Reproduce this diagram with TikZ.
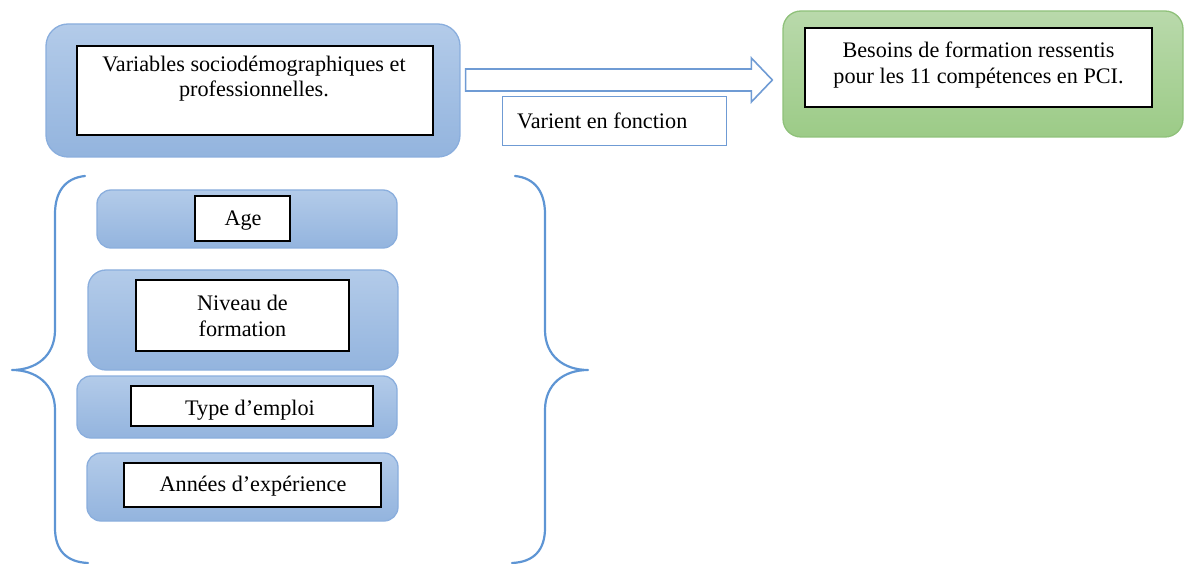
\documentclass[tikz,border=0pt]{standalone}
\usepackage{fontspec}
\setmainfont{Liberation Serif}
\usetikzlibrary{calc}
\definecolor{bluetop}{HTML}{B3CBE9}
\definecolor{bluebot}{HTML}{93B4DE}
\definecolor{blueedge}{HTML}{8AAEDD}
\definecolor{greentop}{HTML}{B9D9AB}
\definecolor{greenbot}{HTML}{9CCB87}
\definecolor{greenedge}{HTML}{8FC17A}
\definecolor{bracecol}{HTML}{5E95D4}
\definecolor{arrowcol}{HTML}{6F9BD4}
\tikzset{
  bluebox/.style={draw=blueedge, line width=1.3pt, rounded corners=14pt, top color=bluetop, bottom color=bluebot, inner sep=0pt},
  greenbox/.style={draw=greenedge, line width=1.3pt, rounded corners=18pt, top color=greentop, bottom color=greenbot, inner sep=0pt},
  whitebox/.style={draw=black, line width=1.2pt, fill=white, inner sep=0pt},
  txt/.style={inner sep=0pt, align=center, font=\fontsize{22.2}{25.5}\selectfont},
  bracestyle/.style={draw=bracecol, line width=2.2pt, line cap=round},
}
\begin{document}
\begin{tikzpicture}[x=1pt,y=-1pt]
\useasboundingbox (0,0) rectangle (1184,564);
% top left box
\node[bluebox, minimum width=414pt, minimum height=133pt, rounded corners=22pt] (src) at (253,90.5) {};
\node[whitebox, minimum width=356pt, minimum height=89pt] (srcin) at (255,90.5) {};
\node[txt] (srctxt) at (254,78.5) {Variables sociodémographiques et\\professionnelles.};
% green box
\node[greenbox, minimum width=400pt, minimum height=126pt] (dst) at (983,74) {};
\node[whitebox, minimum width=347pt, minimum height=79pt] (dstin) at (978.5,67.5) {};
\node[txt] (dsttxt) at (978.5,65) {Besoins de formation ressentis\\pour les 11 compétences en PCI.};
% block arrow
\coordinate (as) at ($(src.east)+(5,0)$);
\coordinate (at) at ($(dst.west)+(-10,0)$);
\draw[draw=arrowcol, line width=1.6pt, fill=white, line join=miter]
  (as |- 0,69) -- ($(at |- 0,69)+(-21,0)$) -- ($(at |- 0,58)+(-21,0)$) -- (at |- 0,80)
  -- ($(at |- 0,102)+(-21,0)$) -- ($(at |- 0,91)+(-21,0)$) -- (as |- 0,91) -- cycle;
% label box
\node[draw=arrowcol, line width=1pt, fill=white, minimum width=224pt, minimum height=49pt, inner sep=0pt] (lab) at (614,121.5) {};
\node[txt, anchor=west] (labtxt) at (517,121) {Varient en fonction};
% variable boxes
\node[bluebox, minimum width=300pt, minimum height=58pt] (age) at (247,219) {};
\node[whitebox, minimum width=95pt, minimum height=45pt] (agein) at (242.5,218.5) {};
\node[txt] (agetxt) at (243,221) {Age};
\node[bluebox, minimum width=310pt, minimum height=100pt, rounded corners=18pt] (niv) at (243,320) {};
\node[whitebox, minimum width=213pt, minimum height=71pt] (nivin) at (242.5,315.5) {};
\node[txt] (nivtxt) at (242.5,316) {Niveau de\\formation};
\node[bluebox, minimum width=320pt, minimum height=62pt] (typ) at (237,407) {};
\node[whitebox, minimum width=242pt, minimum height=40pt] (typin) at (252,406) {};
\node[txt] (typtxt) at (250,410) {Type d’emploi};
\node[bluebox, minimum width=311pt, minimum height=68pt] (ann) at (242.5,487) {};
\node[whitebox, minimum width=257pt, minimum height=44pt] (annin) at (252.5,485) {};
\node[txt] (anntxt) at (253,486) {Années d’expérience};
% braces
\draw[bracestyle] (85,176) .. controls (65,178) and (55,192) .. (55,214)
  -- (55,330) .. controls (55,356) and (36,370) .. (12,370)
  (12,370) .. controls (36,370) and (55,384) .. (55,410)
  -- (55,528) .. controls (55,550) and (66,562) .. (88,563);
\draw[bracestyle] (515,176) .. controls (535,178) and (545,192) .. (545,214)
  -- (545,330) .. controls (545,356) and (564,370) .. (588,370)
  (588,370) .. controls (564,370) and (545,384) .. (545,410)
  -- (545,528) .. controls (545,550) and (534,562) .. (512,563);
\end{tikzpicture}
\end{document}
